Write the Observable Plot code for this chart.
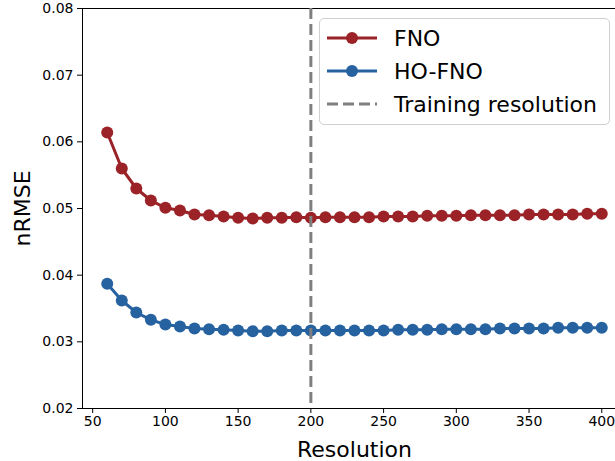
<!DOCTYPE html>
<html>
<head>
<meta charset="utf-8">
<script src="https://cdn.jsdelivr.net/npm/d3@7"></script>
<script src="https://cdn.jsdelivr.net/npm/@observablehq/plot@0.6"></script>
<style>
  html, body { margin: 0; padding: 0; background: #fff; }
  #wrap { position: relative; width: 615px; height: 461px; overflow: hidden; font-family: "DejaVu Sans", sans-serif; }
  #legend { position: absolute; left: 319px; top: 18px; width: 289px; height: 105px; border: 1px solid #d0d0d0; border-radius: 5px; background: rgba(255,255,255,0.85); }
  .entry { position: absolute; left: 0; height: 30px; display: flex; align-items: center; font-size: 22px; color: #000; white-space: nowrap; }
  .entry svg { margin-left: 7px; margin-right: 17px; }
</style>
</head>
<body>
<div id="wrap"></div>
<script>
const resolutions = [60,70,80,90,100,110,120,130,140,150,160,170,180,190,200,210,220,230,240,250,260,270,280,290,300,310,320,330,340,350,360,370,380,390,400];
const fnoValues = [0.0614,0.0560,0.0530,0.0512,0.0501,0.0497,0.0491,0.0490,0.0488,0.0486,0.0485,0.0486,0.0486,0.0487,0.0486,0.0487,0.0487,0.0487,0.0487,0.0488,0.0488,0.0488,0.0489,0.0489,0.0489,0.0490,0.0490,0.0490,0.0490,0.0491,0.0491,0.0491,0.0491,0.0492,0.0492];
const hoFnoValues = [0.0387,0.0362,0.0344,0.0333,0.0326,0.0323,0.0320,0.0319,0.0318,0.0317,0.0316,0.0316,0.0317,0.0317,0.0317,0.0317,0.0317,0.0317,0.0317,0.0317,0.0318,0.0318,0.0318,0.0319,0.0319,0.0319,0.0319,0.0320,0.0320,0.0320,0.0320,0.0321,0.0321,0.0321,0.0321];
const seriesNames = ["FNO", "HO-FNO"];
const seriesColors = ["#9b2226", "#2762a0"];
const trainingResolution = 200;
const xTicks = [50,100,150,200,250,300,350,400];
const yTicks = [0.02,0.03,0.04,0.05,0.06,0.07,0.08];

const fno = resolutions.map((r, i) => ({res: r, v: fnoValues[i]}));
const ho = resolutions.map((r, i) => ({res: r, v: hoFnoValues[i]}));

const chart = Plot.plot({
  width: 615,
  height: 461,
  marginLeft: 82,
  marginRight: -11,
  marginTop: 8,
  marginBottom: 53,
  style: { fontFamily: "DejaVu Sans, sans-serif", background: "#fff", overflow: "hidden" },
  x: { domain: [43, 417] },
  y: { domain: [0.02, 0.08] },
  marks: [
    Plot.frame({ stroke: "#000", strokeWidth: 1 }),
    Plot.axisX({ ticks: xTicks, tickSize: 5, fontSize: 14, label: null, tickPadding: 3, color: "#000" }),
    Plot.axisY({ ticks: yTicks, tickSize: 5, fontSize: 14, label: null, tickFormat: d3.format(".2f"), tickPadding: 4, color: "#000" }),
    Plot.text(["Resolution"], { frameAnchor: "bottom", lineAnchor: "middle", textAnchor: "middle", dy: 41, fontSize: 22, fill: "#000" }),
    Plot.text(["nRMSE"], { frameAnchor: "left", lineAnchor: "middle", textAnchor: "middle", dx: -60, rotate: -90, fontSize: 22, fill: "#000" }),
    Plot.line(fno, { x: "res", y: "v", stroke: seriesColors[0], strokeWidth: 3 }),
    Plot.dot(fno, { x: "res", y: "v", r: 6, fill: seriesColors[0], stroke: "none" }),
    Plot.line(ho, { x: "res", y: "v", stroke: seriesColors[1], strokeWidth: 3 }),
    Plot.dot(ho, { x: "res", y: "v", r: 6, fill: seriesColors[1], stroke: "none" }),
    Plot.ruleX([trainingResolution], { stroke: "#7f7f7f", strokeWidth: 3, strokeDasharray: "11,5" })
  ]
});

const wrap = document.getElementById("wrap");
wrap.appendChild(chart);

const legend = document.createElement("div");
legend.id = "legend";
const entries = [
  { label: seriesNames[0], color: seriesColors[0], type: "line" },
  { label: seriesNames[1], color: seriesColors[1], type: "line" },
  { label: "Training resolution", color: "#7f7f7f", type: "dash" }
];
entries.forEach((e, i) => {
  const div = document.createElement("div");
  div.className = "entry";
  div.style.top = (4 + i * 33) + "px";
  const sw = e.type === "line"
    ? `<svg width="50" height="14"><line x1="0" y1="7" x2="50" y2="7" stroke="${e.color}" stroke-width="3"/><circle cx="25" cy="7" r="6" fill="${e.color}"/></svg>`
    : `<svg width="50" height="14"><line x1="0" y1="7" x2="50" y2="7" stroke="${e.color}" stroke-width="3" stroke-dasharray="11,5"/></svg>`;
  div.innerHTML = sw + `<span>${e.label}</span>`;
  legend.appendChild(div);
});
wrap.appendChild(legend);
</script>
</body>
</html>
